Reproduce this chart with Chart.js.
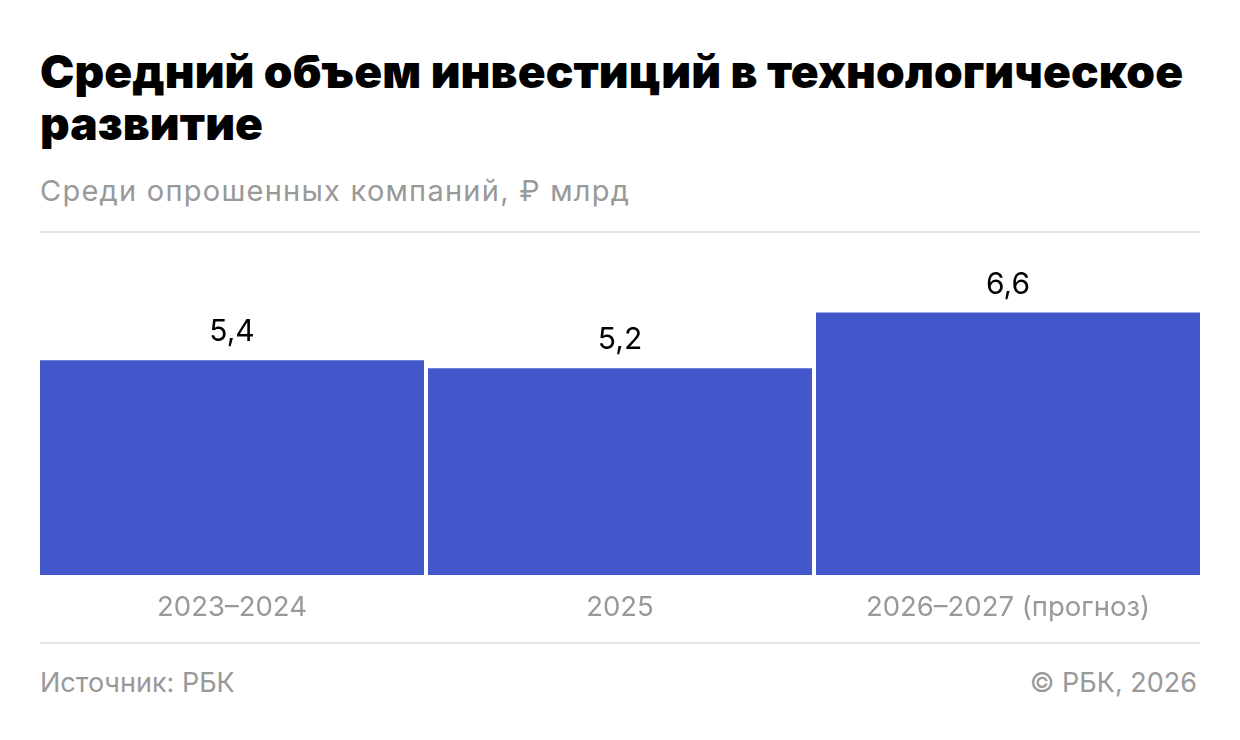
<!DOCTYPE html>
<html lang="ru">
<head>
<meta charset="utf-8">
<script src="https://cdn.jsdelivr.net/npm/chart.js@4"></script>
<style>
  body { margin: 0; width: 1240px; height: 740px; background: #fff; position: relative; overflow: hidden; font-family: Inter, Roboto, sans-serif; }
  #title { position: absolute; left: 40px; top: 45px; width: 1190px; font-size: 46px; font-weight: 900; line-height: 52px; color: #000; letter-spacing: 0.1px; }
  #subtitle { position: absolute; left: 40px; top: 173px; font-size: 29px; color: #999; letter-spacing: 1.25px; }
  .rule { position: absolute; left: 40px; width: 1160px; height: 2px; background: #e5e5e5; }
  #chartBox { position: absolute; left: 38px; top: 233px; width: 1164px; height: 410px; }
  .foot { position: absolute; top: 666px; font-size: 27px; color: #999; }
</style>
</head>
<body>
<div id="title">Средний объем инвестиций в технологическое развитие</div>
<div id="subtitle">Среди опрошенных компаний, ₽ млрд</div>
<div class="rule" style="top:231px"></div>
<div id="chartBox"><canvas id="investChart"></canvas></div>
<div class="rule" style="top:642px"></div>
<div class="foot" style="left:40px">Источник: РБК</div>
<div class="foot" style="right:43px">© РБК, 2026</div>

<script>
// Periods and average investment, bln rubles
const periods = ['2023–2024', '2025', '2026–2027 (прогноз)'];
const investments = [5.4, 5.2, 6.6];
const valueLabels = ['5,4', '5,2', '6,6'];

// Draw the value above each bar
const valueLabelPlugin = {
    id: 'valueLabels',
    afterDatasetsDraw(chart) {
        const ctx = chart.ctx;
        const bars = chart.getDatasetMeta(0).data;
        ctx.save();
        ctx.font = '30px Inter, Roboto, sans-serif';
        ctx.fillStyle = '#000';
        ctx.textAlign = 'center';
        ctx.textBaseline = 'alphabetic';
        bars.forEach((bar, i) => {
            ctx.fillText(valueLabels[i], bar.x, bar.y - 19);
        });
        ctx.restore();
    }
};

const investCtx = document.getElementById('investChart').getContext('2d');
const investChart = new Chart(investCtx, {
    type: 'bar',
    data: {
        labels: periods,
        datasets: [{
            data: investments,
            backgroundColor: '#4257CA',
            borderWidth: 0,
            barPercentage: 0.9897,
            categoryPercentage: 1,
        }]
    },
    options: {
        responsive: true,
        maintainAspectRatio: false,
        animation: false,
        layout: {
            padding: { top: 12, bottom: 11, left: 0, right: 0 }
        },
        plugins: {
            legend: { display: false },
            tooltip: { enabled: false }
        },
        scales: {
            x: {
                grid: { display: false },
                border: { display: false },
                ticks: {
                    color: '#999',
                    padding: 8,
                    font: { family: 'Inter, Roboto, sans-serif', size: 27.5 }
                }
            },
            y: {
                display: false,
                min: 0,
                max: 8.3
            }
        }
    },
    plugins: [valueLabelPlugin]
});
</script>
</body>
</html>
